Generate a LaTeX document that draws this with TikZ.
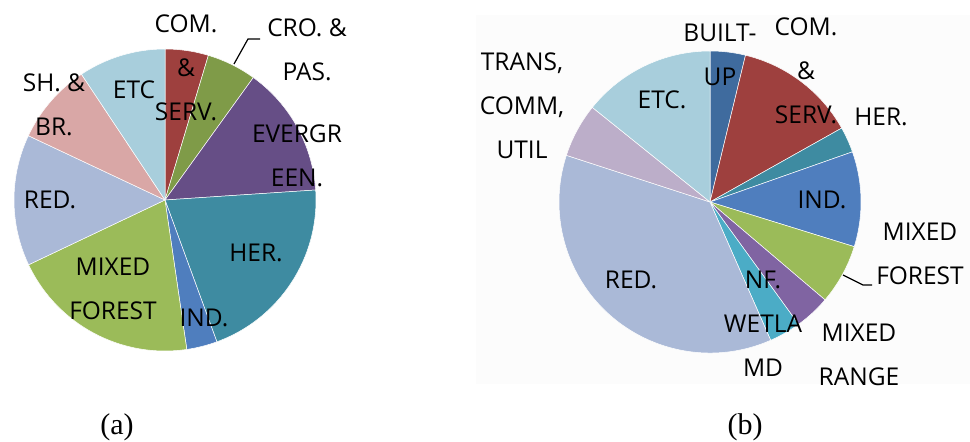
\documentclass[tikz,border=0pt]{standalone}
\usepackage{fontspec}
\newfontfamily\labfont{Open Sans}
\newfontfamily\capfont{Liberation Serif}

% slice colours
\definecolor{cRed}{HTML}{9E403E}
\definecolor{cOlive}{HTML}{7F9B48}
\definecolor{cPurple}{HTML}{664E86}
\definecolor{cTeal}{HTML}{3E8BA1}
\definecolor{cBlue}{HTML}{4F7EBE}
\definecolor{cLime}{HTML}{9BBB59}
\definecolor{cPeri}{HTML}{AAB9D7}
\definecolor{cPink}{HTML}{D9A7A6}
\definecolor{cSky}{HTML}{A8CEDC}
\definecolor{cNavy}{HTML}{3F6B9E}
\definecolor{cCyan}{HTML}{4BACC6}
\definecolor{cViolet}{HTML}{8064A2}
\definecolor{cLilac}{HTML}{BCAEC9}

\tikzset{
  lab/.style={font=\labfont\fontsize{24.5}{44}\selectfont, align=center, inner sep=0pt},
  captext/.style={font=\capfont\fontsize{30}{34}\selectfont, inner sep=0pt},
  leader/.style={draw=black, line width=1.2pt},
  wedge/.style={draw=white, line width=0.5pt, line join=round}
}

% #1 centre, #2 start angle, #3 end angle, #4 fill colour
\newcommand\wedgefill[4]{%
  \filldraw[wedge, fill=#4] (#1) -- ++(#2:151) arc[start angle=#2, end angle=#3, radius=151] -- cycle;}

\begin{document}
\begin{tikzpicture}[x=1pt,y=1pt]
\useasboundingbox (0,0) rectangle (970,442);
\fill[white] (0,0) rectangle (970,442);
% faint chart area of the right pie
\fill[black!1] (476,58) rectangle (970,427);

% ---------- pie (a) ----------
\coordinate (ca) at (165,242);
\wedgefill{ca}{90}{73.3}{cRed}
\wedgefill{ca}{73.3}{54.2}{cOlive}
\wedgefill{ca}{54.2}{3.8}{cPurple}
\wedgefill{ca}{3.8}{-69.9}{cTeal}
\wedgefill{ca}{-69.9}{-81.7}{cBlue}
\wedgefill{ca}{-81.7}{-154.6}{cLime}
\wedgefill{ca}{-154.6}{-205.2}{cPeri}
\wedgefill{ca}{-205.2}{-236.4}{cPink}
\wedgefill{ca}{-236.4}{-270}{cSky}

\node[lab] (comA) at (186,374.5) {COM.\\\&\\SERV.};
\node[lab] (croA) at (307,392) {CRO. \&\\PAS.};
\node[lab] (everA) at (297,286) {EVERGR\\EEN.};
\node[lab] (herA) at (256,189) {HER.};
\node[lab] (indA) at (204,124) {IND.};
\node[lab] (mixA) at (113,153.5) {MIXED\\FOREST};
\node[lab] (redA) at (50,242) {RED.};
\node[lab] (shA) at (54,337) {SH. \&\\BR.};
\node[lab] (etcA) at (134,352) {ETC};

\coordinate (la1) at (234,378);
\coordinate (la2) at (248,403);
\coordinate (la3) at (260,403);
\draw[leader] (la1) -- (la2) -- (la3);

% ---------- pie (b) ----------
\coordinate (cb) at (710,240);
\wedgefill{cb}{90}{76.4}{cNavy}
\wedgefill{cb}{76.4}{29.3}{cRed}
\wedgefill{cb}{29.3}{19.4}{cTeal}
\wedgefill{cb}{19.4}{-17.2}{cBlue}
\wedgefill{cb}{-17.2}{-40.4}{cLime}
\wedgefill{cb}{-40.4}{-54.1}{cViolet}
\wedgefill{cb}{-54.1}{-66.3}{cCyan}
\wedgefill{cb}{-66.3}{-198}{cPeri}
\wedgefill{cb}{-198}{-218.8}{cLilac}
\wedgefill{cb}{-218.8}{-270}{cSky}

\node[lab] (builtB) at (720,387) {BUILT-\\UP};
\node[lab] (comB) at (806,371) {COM.\\\&\\SERV.};
\node[lab] (herB) at (881,325) {HER.};
\node[lab] (indB) at (822,242) {IND.};
\node[lab] (mixfB) at (920,188.5) {MIXED\\FOREST};
\node[lab] (nfB) at (763,118.5) {NF.\\WETLA\\MD};
\node[lab] (mixrB) at (859,87.5) {MIXED\\RANGE};
\node[lab] (redB) at (631,162) {RED.};
\node[lab] (transB) at (522,336.5) {TRANS,\\COMM,\\UTIL};
\node[lab] (etcB) at (662,342) {ETC.};

\coordinate (lb1) at (843,167);
\coordinate (lb2) at (863,157);
\coordinate (lb3) at (872,157);
\draw[leader] (lb1) -- (lb2) -- (lb3);

% ---------- captions ----------
\node[captext] (capA) at (117,15) {(a)};
\node[captext] (capB) at (745,15) {(b)};
\end{tikzpicture}
\end{document}
